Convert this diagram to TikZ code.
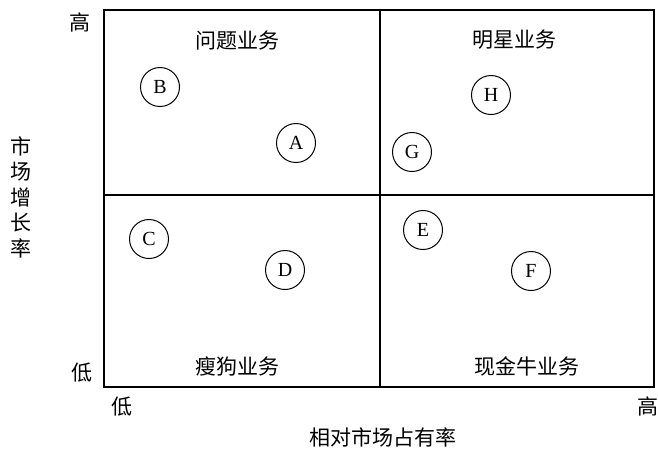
\documentclass[tikz,border=0pt]{standalone}
\usepackage{fontspec}
\setmainfont{Liberation Serif}
\newfontfamily\cjk{Noto Sans CJK SC}
\begin{document}
\begin{tikzpicture}[x=1pt,y=-1pt,
  frame/.style={line width=1.1pt},
  biz/.style={circle,draw,line width=1pt,minimum size=39pt,inner sep=0pt,font=\fontsize{20}{20}\selectfont},
  quad/.style={font=\cjk\fontsize{21}{21}\selectfont},
  axis/.style={font=\cjk\fontsize{21}{21}\selectfont,inner sep=0pt}]
\useasboundingbox (0,0) rectangle (658,459);
\draw[frame] (104,10) rectangle (654,387);
\coordinate (tm) at (380,10);
\coordinate (bm) at (380,387);
\coordinate (lm) at (104,195);
\coordinate (rm) at (654,195);
\draw[frame] (tm) -- (bm);
\draw[frame] (lm) -- (rm);
\node[quad] (q1) at (237,41) {问题业务};
\node[quad] (q2) at (514,40) {明星业务};
\node[quad] (q3) at (237,366) {瘦狗业务};
\node[quad] (q4) at (527,366) {现金牛业务};
\node[biz] (A) at (296,143) {A};
\node[biz] (B) at (160,87) {B};
\node[biz] (C) at (149,239) {C};
\node[biz] (D) at (285,270) {D};
\node[biz] (E) at (423,230) {E};
\node[biz] (F) at (531,271) {F};
\node[biz] (G) at (412,152) {G};
\node[biz] (H) at (491,95) {H};
\node[axis] (yh) at (80,22) {高};
\node[axis] (yl) at (82,373) {低};
\node[axis] (xl) at (122,407) {低};
\node[axis] (xh) at (648,406) {高};
\node[axis,align=center] (ylab) at (21,197) {市\\[4.5pt]场\\[4.5pt]增\\[4.5pt]长\\[4.5pt]率};
\node[axis] (xlab) at (383,437) {相对市场占有率};
\end{tikzpicture}
\end{document}
